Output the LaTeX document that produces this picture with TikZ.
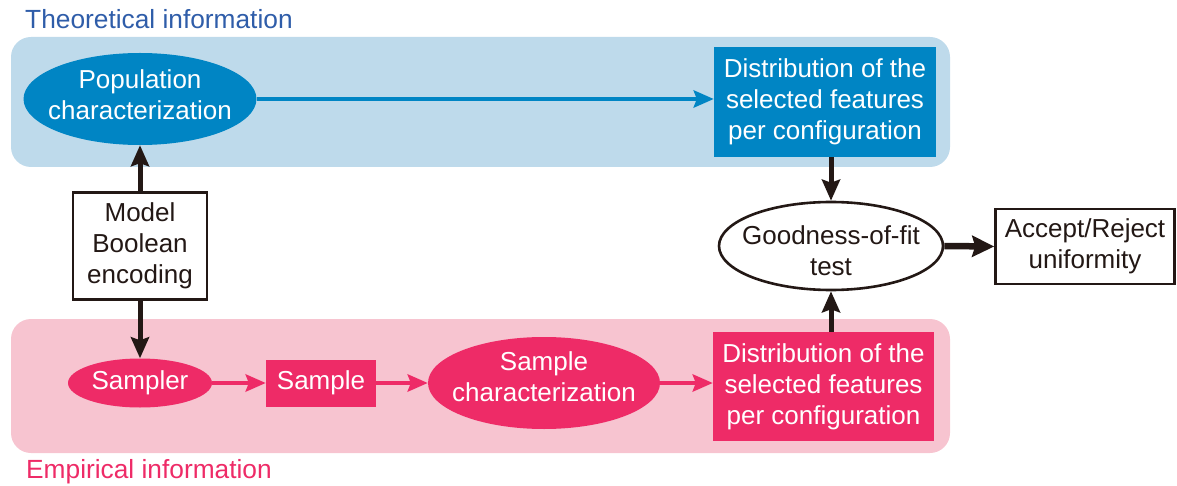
\documentclass[tikz,border=0pt]{standalone}
\usepackage{fontspec}
\setmainfont{Liberation Sans}
\usetikzlibrary{arrows.meta,shapes.geometric}

\definecolor{bandblue}{HTML}{BEDAEB}
\definecolor{nodeblue}{HTML}{0085C4}
\definecolor{labelblue}{HTML}{2F5DA9}
\definecolor{bandpink}{HTML}{F7C4D0}
\definecolor{nodepink}{HTML}{EE2B67}
\definecolor{ink}{HTML}{231815}

\tikzset{
  band/.style={rounded corners=20pt},
  bandlabel/.style={anchor=base west, inner sep=0pt, font=\fontsize{26.3}{31}\selectfont},
  celltext/.style={align=center, inner sep=0pt},
  blueell/.style={ellipse, fill=nodeblue, inner sep=0pt},
  pinkell/.style={ellipse, fill=nodepink, inner sep=0pt},
  bluebox/.style={rectangle, fill=nodeblue, text=white, align=center, inner sep=0pt},
  pinkbox/.style={rectangle, fill=nodepink, text=white, align=center, inner sep=0pt},
  plainbox/.style={rectangle, draw=ink, line width=2.6pt, fill=white, text=ink, align=center, inner sep=0pt},
  plainell/.style={ellipse, draw=ink, line width=2.6pt, fill=white, inner sep=0pt},
  blkarrow/.style={draw=ink, line width=5pt, -{Stealth[length=21pt,width=18pt,inset=3pt]}},
  fatarrow/.style={draw=ink, line width=6.5pt, -{Stealth[length=22pt,width=21pt,inset=3pt]}},
  bluearrow/.style={draw=nodeblue, line width=4.6pt, -{Stealth[length=20pt,width=17pt,inset=3pt]}},
  pinkarrow/.style={draw=nodepink, line width=4.6pt, -{Stealth[length=20pt,width=17pt,inset=3pt]}},
}

\begin{document}
\begin{tikzpicture}[x=1pt, y=-1pt, font=\fontsize{26}{31}\selectfont]
\useasboundingbox (0,0) rectangle (1177,486);

% background bands
\fill[bandblue, band] (11,37) rectangle (950,167);
\fill[bandpink, band] (11,319) rectangle (950,453);
\node[bandlabel, text=labelblue] (theolabel) at (25,29) {Theoretical information};
\node[bandlabel, text=nodepink] (emplabel) at (26,478) {Empirical information};

% theoretical row
\node[blueell, minimum width=233pt, minimum height=92pt] (pop) at (140,99) {};
\node[celltext, text=white] (poptext) at ([yshift=4pt]pop.center) {Population\\characterization};
\node[bluebox, minimum width=222pt, minimum height=110pt] (tdist) at (825,102)
  {Distribution of the\\selected features\\per configuration};

% model and decision
\node[plainbox, minimum width=134pt, minimum height=107pt] (model) at (140,246)
  {Model\\Boolean\\encoding};
\node[plainell, minimum width=224pt, minimum height=88pt] (good) at (831,246) {};
\node[celltext, text=ink] (goodtext) at ([yshift=-5pt]good.center) {Goodness-of-fit\\test};
\node[plainbox, minimum width=179pt, minimum height=75pt] (accept) at (1085,246.5)
  {Accept/Reject\\uniformity};

% empirical row
\node[pinkell, minimum width=144pt, minimum height=49pt] (sampler) at (140,383) {};
\node[celltext, text=white] (samplertext) at (sampler) {Sampler};
\node[pinkbox, minimum width=110pt, minimum height=47pt] (sample) at (321,383) {Sample};
\node[pinkell, minimum width=232pt, minimum height=92pt] (schar) at (544,383) {};
\node[celltext, text=white] (schartext) at ([yshift=6pt]schar.center) {Sample\\characterization};
\node[pinkbox, minimum width=221pt, minimum height=109pt] (edist) at (823.5,386.5)
  {Distribution of the\\selected features\\per configuration};

% connectors
\draw[bluearrow] (pop.east) -- (pop.east -| tdist.west);
\draw[blkarrow] (model.north) -- (pop.south);
\draw[blkarrow] (model.south) -- (sampler.north);
\draw[blkarrow] (tdist.south -| good.north) -- (good.north);
\draw[blkarrow] (edist.north -| good.south) -- (good.south);
\draw[fatarrow] (good.east) -- (accept.west);
\draw[pinkarrow] (sampler.east) -- (sample.west);
\draw[pinkarrow] (sample.east) -- (sample.east -| schar.west);
\draw[pinkarrow] (schar.east) -- (schar.east -| edist.west);
\end{tikzpicture}
\end{document}
